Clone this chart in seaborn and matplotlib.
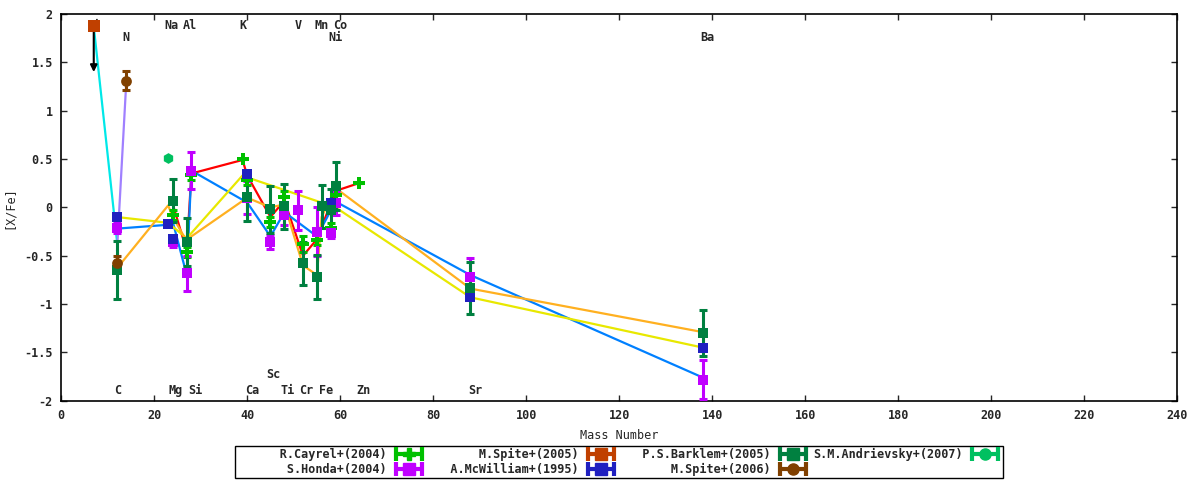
import matplotlib
matplotlib.use("Agg")
import matplotlib.pyplot as plt
import seaborn as sns
from matplotlib.lines import Line2D
from matplotlib.legend_handler import HandlerLine2D

sns.set_style("ticks")
plt.rcParams['font.family'] = ['DejaVu Sans Mono']
plt.rcParams['font.weight'] = 'bold'
plt.rcParams['font.size'] = 8.5

# observations: mass number, [X/Fe], error
cayrel_mass = [24, 27, 28, 39, 40, 45, 48, 52, 55, 58, 59, 64]
cayrel_xfe = [-0.08, -0.46, 0.33, 0.50, 0.28, -0.15, 0.11, -0.38, -0.34, -0.21, 0.13, 0.25]
cayrel_err = [0.05, 0.05, 0.05, 0.0, 0.05, 0.05, 0.06, 0.08, 0.05, 0.05, 0.05, 0.0]

honda_mass = [12, 24, 27, 28, 40, 45, 48, 51, 55, 58, 59, 88, 138]
honda_xfe = [-0.21, -0.36, -0.68, 0.38, 0.10, -0.36, -0.08, -0.03, -0.25, -0.27, 0.04, -0.72, -1.78]
honda_err = [0.05, 0.05, 0.18, 0.19, 0.17, 0.07, 0.10, 0.20, 0.25, 0.05, 0.12, 0.20, 0.20]

spite05_mass = [7]
spite05_xfe = [1.87]

mcw_mass = [12, 23, 24, 40, 58, 88, 138]
mcw_xfe = [-0.10, -0.17, -0.33, 0.34, 0.04, -0.93, -1.45]

barklem_mass = [12, 24, 27, 40, 45, 48, 52, 55, 56, 58, 59, 88, 138]
barklem_xfe = [-0.65, 0.07, -0.36, 0.11, -0.02, 0.01, -0.58, -0.72, 0.01, -0.03, 0.22, -0.83, -1.30]
barklem_err = [0.30, 0.22, 0.25, 0.25, 0.24, 0.23, 0.22, 0.23, 0.22, 0.22, 0.25, 0.27, 0.24]

spite06_mass = [12, 14]
spite06_xfe = [-0.58, 1.31]
spite06_err = [0.08, 0.10]

andr_mass = [23]
andr_xfe = [0.51]

# model curves
cyan_mass = [7, 12]
cyan_xfe = [1.87, -0.35]
lav_mass = [12, 14]
lav_xfe = [-0.45, 1.30]
red_mass = [24, 27, 28, 39, 40, 45, 48, 52, 55, 59, 64]
red_xfe = [0.03, -0.45, 0.35, 0.49, 0.33, -0.10, 0.07, -0.50, -0.33, 0.17, 0.25]
blue_mass = [12, 23, 24, 27, 28, 40, 45, 48, 55, 59, 88, 138]
blue_xfe = [-0.22, -0.18, -0.15, -0.70, 0.38, 0.05, -0.30, -0.05, -0.30, 0.06, -0.70, -1.76]
yellow_mass = [12, 23, 24, 27, 39, 40, 59, 88, 138]
yellow_xfe = [-0.10, -0.16, -0.20, -0.32, 0.33, 0.31, 0.00, -0.93, -1.45]
orange_mass = [12, 23, 24, 27, 28, 40, 45, 48, 52, 55, 56, 59, 88, 138]
orange_xfe = [-0.63, 0.02, -0.10, -0.35, -0.30, 0.10, 0.00, 0.03, -0.60, -0.70, -0.10, 0.20, -0.84, -1.29]

# element labels
top_names = ["Li", "Na", "Al", "K", "V", "Mn", "Co"]
top_x = [7, 23.8, 27.7, 39, 51, 56, 60]
top2_names = ["N", "Ni", "Ba"]
top2_x = [14, 59, 139]
bot_names = ["C", "Mg", "Si", "Ca", "Ti", "Cr", "Fe", "Zn", "Sr"]
bot_x = [12.2, 24.7, 28.8, 41, 48.8, 52.8, 57, 65, 89]

fig = plt.figure(figsize=(12, 4.8), dpi=100)
ax = fig.add_axes([0.051, 0.165, 0.930, 0.806])

for m, v, c in [(cyan_mass, cyan_xfe, '#00e8e8'), (lav_mass, lav_xfe, '#a080ff'),
                (red_mass, red_xfe, '#ff0000'), (blue_mass, blue_xfe, '#0080ff'),
                (yellow_mass, yellow_xfe, '#e8e800'), (orange_mass, orange_xfe, '#ffb020')]:
    sns.lineplot(x=m, y=v, color=c, lw=1.6, ax=ax, legend=False, zorder=2)

for n, x in zip(top_names, top_x):
    ax.text(x, 1.88, n, ha='center', va='center', zorder=1)
for n, x in zip(top2_names, top2_x):
    ax.text(x, 1.76, n, ha='center', va='center', zorder=1)
for n, x in zip(bot_names, bot_x):
    ax.text(x, -1.89, n, ha='center', va='center', zorder=1)
ax.text(45.7, -1.73, "Sc", ha='center', va='center', zorder=1)

ebkw = dict(fmt='none', elinewidth=2.2, capsize=3, capthick=2.2, zorder=3)

ax.errorbar(cayrel_mass, cayrel_xfe, yerr=cayrel_err, ecolor='#00c000', **ebkw)
sns.scatterplot(x=cayrel_mass, y=cayrel_xfe, marker='P', s=70, color='#00c000',
                linewidth=0, ax=ax, zorder=4, legend=False)

ax.errorbar(honda_mass, honda_xfe, yerr=honda_err, ecolor='#c000ff', **ebkw)
sns.scatterplot(x=honda_mass, y=honda_xfe, marker='s', s=55, color='#c000ff',
                linewidth=0, ax=ax, zorder=4, legend=False)

ax.annotate('', xy=(7, 1.37), xytext=(7, 1.87),
            arrowprops=dict(arrowstyle='-|>', color='black', lw=1.5, mutation_scale=10),
            zorder=3)
sns.scatterplot(x=spite05_mass, y=spite05_xfe, marker='s', s=75, color='#c04000',
                linewidth=0, ax=ax, zorder=4, legend=False)

sns.scatterplot(x=mcw_mass, y=mcw_xfe, marker='s', s=60, color='#2020c0',
                linewidth=0, ax=ax, zorder=4, legend=False)

ax.errorbar(barklem_mass, barklem_xfe, yerr=barklem_err, ecolor='#008040', **ebkw)
sns.scatterplot(x=barklem_mass, y=barklem_xfe, marker='s', s=60, color='#008040',
                linewidth=0, ax=ax, zorder=4, legend=False)

ax.errorbar(spite06_mass, spite06_xfe, yerr=spite06_err, ecolor='#804000', **ebkw)
sns.scatterplot(x=spite06_mass, y=spite06_xfe, marker='o', s=60, color='#804000',
                linewidth=0, ax=ax, zorder=4, legend=False)

sns.scatterplot(x=andr_mass, y=andr_xfe, marker='h', s=60, color='#00c060',
                linewidth=0, ax=ax, zorder=4, legend=False)

ax.set_xlim(0, 240)
ax.set_ylim(-2, 2)
ax.set_xticks(range(0, 241, 20))
ax.set_yticks([-2, -1.5, -1, -0.5, 0, 0.5, 1, 1.5, 2])
ax.set_yticklabels(["-2", "-1.5", "-1", "-0.5", "0", "0.5", "1", "1.5", "2"])
ax.tick_params(direction='in', length=4, width=1, top=True, right=True, pad=6)
for sp in ax.spines.values():
    sp.set_visible(True)
    sp.set_color('black')
    sp.set_linewidth(1.2)
ax.set_xlabel("Mass Number", labelpad=5)
ax.set_ylabel("[X/Fe]", labelpad=6)

# legend with gnuplot-like error bar samples
series = [("R.Cayrel+(2004)", '#00c000', 'P'), ("S.Honda+(2004)", '#c000ff', 's'),
          ("M.Spite+(2005)", '#c04000', 's'), ("A.McWilliam+(1995)", '#2020c0', 's'),
          ("P.S.Barklem+(2005)", '#008040', 's'), ("M.Spite+(2006)", '#804000', 'o'),
          ("S.M.Andrievsky+(2007)", '#00c060', 'o')]
handles, labels, hmap = [], [], {}
for lab, c, mk in series:
    bar = Line2D([], [], color=c, lw=3, marker='|', ms=10, mew=3)
    dot = Line2D([], [], color=c, lw=0, marker=mk, ms=8)
    hmap[bar] = HandlerLine2D(numpoints=2)
    hmap[dot] = HandlerLine2D(numpoints=1)
    handles.append((bar, dot))
    labels.append(lab.rjust(21))
leg = fig.legend(handles, labels, handler_map=hmap, loc='center', ncol=4,
                 bbox_to_anchor=(0.516, 0.0375), markerfirst=False, frameon=True,
                 fancybox=False, framealpha=1, edgecolor='black', borderpad=0.15,
                 handlelength=2.8, handletextpad=0.5, columnspacing=0.3,
                 labelspacing=0.15, borderaxespad=0)
leg.get_frame().set_linewidth(1.0)

fig.savefig("out.png", dpi=100)
